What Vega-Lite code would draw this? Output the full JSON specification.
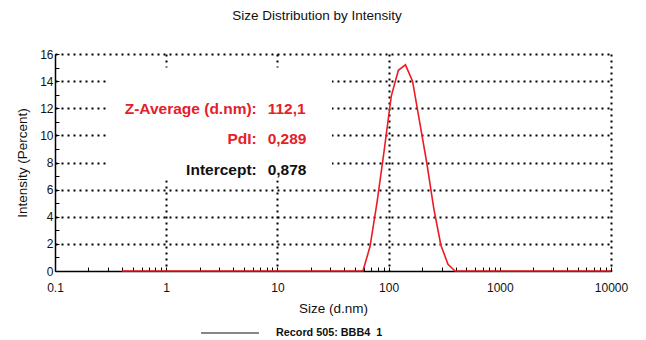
{
  "$schema": "https://vega.github.io/schema/vega-lite/v6.json",
  "width": 556,
  "height": 217,
  "autosize": "none",
  "padding": {"left": 55, "top": 54, "right": 35, "bottom": 69},
  "background": "white",
  "config": {
    "view": {"stroke": null},
    "font": "Liberation Sans",
    "text": {"font": "Liberation Sans"}
  },
  "title": {
    "text": "Size Distribution by Intensity",
    "font": "Liberation Sans",
    "fontSize": 13.5,
    "fontWeight": "normal",
    "color": "#111111",
    "anchor": "middle",
    "dx": -16,
    "offset": 26
  },
  "datasets": {
    "distribution": [
      {"size": 0.4, "intensity": 0}, {"size": 0.4632, "intensity": 0}, {"size": 0.5365, "intensity": 0},
      {"size": 0.6213, "intensity": 0}, {"size": 0.7195, "intensity": 0}, {"size": 0.8332, "intensity": 0},
      {"size": 0.9649, "intensity": 0}, {"size": 1.117, "intensity": 0}, {"size": 1.294, "intensity": 0},
      {"size": 1.499, "intensity": 0}, {"size": 1.736, "intensity": 0}, {"size": 2.01, "intensity": 0},
      {"size": 2.328, "intensity": 0}, {"size": 2.696, "intensity": 0}, {"size": 3.122, "intensity": 0},
      {"size": 3.615, "intensity": 0}, {"size": 4.187, "intensity": 0}, {"size": 4.849, "intensity": 0},
      {"size": 5.615, "intensity": 0}, {"size": 6.503, "intensity": 0}, {"size": 7.531, "intensity": 0},
      {"size": 8.721, "intensity": 0}, {"size": 10.1, "intensity": 0}, {"size": 11.7, "intensity": 0},
      {"size": 13.54, "intensity": 0}, {"size": 15.69, "intensity": 0}, {"size": 18.17, "intensity": 0},
      {"size": 21.04, "intensity": 0}, {"size": 24.36, "intensity": 0}, {"size": 28.21, "intensity": 0},
      {"size": 32.67, "intensity": 0}, {"size": 37.84, "intensity": 0}, {"size": 43.82, "intensity": 0},
      {"size": 50.75, "intensity": 0}, {"size": 58.77, "intensity": 0}, {"size": 68.06, "intensity": 1.8},
      {"size": 78.82, "intensity": 5.1}, {"size": 91.28, "intensity": 8.9}, {"size": 105.7, "intensity": 12.9},
      {"size": 122.4, "intensity": 14.8}, {"size": 141.8, "intensity": 15.2}, {"size": 164.2, "intensity": 14.0},
      {"size": 190.1, "intensity": 11.0}, {"size": 220.2, "intensity": 8.0}, {"size": 255.0, "intensity": 4.6},
      {"size": 295.3, "intensity": 1.9}, {"size": 342.0, "intensity": 0.5}, {"size": 396.1, "intensity": 0},
      {"size": 458.7, "intensity": 0}, {"size": 531.2, "intensity": 0}, {"size": 615.1, "intensity": 0},
      {"size": 712.4, "intensity": 0}, {"size": 825.0, "intensity": 0}, {"size": 955.4, "intensity": 0},
      {"size": 1106, "intensity": 0}, {"size": 1281, "intensity": 0}, {"size": 1484, "intensity": 0},
      {"size": 1718, "intensity": 0}, {"size": 1990, "intensity": 0}, {"size": 2305, "intensity": 0},
      {"size": 2669, "intensity": 0}, {"size": 3091, "intensity": 0}, {"size": 3580, "intensity": 0},
      {"size": 4145, "intensity": 0}, {"size": 4801, "intensity": 0}, {"size": 5560, "intensity": 0},
      {"size": 6439, "intensity": 0}, {"size": 7456, "intensity": 0}, {"size": 8635, "intensity": 0},
      {"size": 10000, "intensity": 0}
    ],
    "stats": [
      {"stat": "Z-Average (d.nm):", "value": "112,1"},
      {"stat": "PdI:", "value": "0,289"},
      {"stat": "Intercept:", "value": "0,878"}
    ]
  },
  "layer": [
    {
      "data": {"name": "distribution"},
      "mark": {"type": "line", "strokeWidth": 0, "opacity": 0},
      "encoding": {
        "x": {
          "field": "size",
          "type": "quantitative",
          "scale": {"type": "log", "domain": [0.1, 10000]},
          "axis": {
            "title": "Size (d.nm)",
            "titleFont": "Liberation Sans",
            "titleFontSize": 13.5,
            "titleFontWeight": "normal",
            "titleColor": "#111111",
            "titlePadding": 8,
            "values": [0.1, 0.2, 0.3, 0.4, 0.5, 0.6, 0.7, 0.8, 0.9,
                       1, 2, 3, 4, 5, 6, 7, 8, 9,
                       10, 20, 30, 40, 50, 60, 70, 80, 90,
                       100, 200, 300, 400, 500, 600, 700, 800, 900,
                       1000, 2000, 3000, 4000, 5000, 6000, 7000, 8000, 9000, 10000],
            "tickCount": 100,
            "format": "~g",
            "labelExpr": "indexof([0.1, 1, 10, 100, 1000, 10000], datum.value) >= 0 ? datum.label : ''",
            "labelOverlap": false,
            "labelFlush": false,
            "labelFont": "Liberation Sans",
            "labelFontSize": 12,
            "labelColor": "#111111",
            "labelPadding": 15,
            "tickSize": -4,
            "tickColor": "black",
            "tickWidth": 1,
            "domainColor": "black",
            "domainWidth": 1.5,
            "grid": true,
            "gridColor": "black",
            "gridDash": [2, 4],
            "gridWidth": 2,
            "gridOpacity": {
              "condition": {"test": "indexof([1, 10, 100, 10000], datum.value) >= 0", "value": 1},
              "value": 0
            }
          }
        },
        "y": {
          "field": "intensity",
          "type": "quantitative",
          "scale": {"domain": [0, 16], "nice": false},
          "axis": {
            "title": "Intensity (Percent)",
            "titleFont": "Liberation Sans",
            "titleFontSize": 13.5,
            "titleFontWeight": "normal",
            "titleColor": "#111111",
            "titlePadding": 10,
            "values": [0, 1, 2, 3, 4, 5, 6, 7, 8, 9, 10, 11, 12, 13, 14, 15, 16],
            "tickCount": 40,
            "format": "d",
            "labelExpr": "datum.value % 2 == 0 ? datum.label : ''",
            "labelOverlap": false,
            "labelFont": "Liberation Sans",
            "labelFontSize": 12,
            "labelColor": "#111111",
            "labelPadding": 6,
            "tickSize": -4,
            "tickColor": "black",
            "domainColor": "black",
            "domainWidth": 1.5,
            "grid": true,
            "gridColor": "black",
            "gridDash": [2, 4],
            "gridWidth": 2,
            "gridOpacity": {
              "condition": {"test": "datum.value % 2 == 0 && datum.value > 0", "value": 1},
              "value": 0
            }
          }
        }
      }
    },
    {
      "mark": {"type": "rect", "color": "white"},
      "data": {"values": [{}]},
      "encoding": {
        "x": {"datum": 0.29, "type": "quantitative"},
        "x2": {"datum": 31},
        "y": {"datum": 15, "type": "quantitative"},
        "y2": {"datum": 6.7}
      }
    },
    {
      "data": {"name": "stats"},
      "transform": [{"filter": "datum.stat === 'Z-Average (d.nm):'"}],
      "layer": [
        {
          "mark": {"type": "text", "align": "right", "baseline": "middle", "fontSize": 15.5, "fontWeight": "bold", "color": "#e5202a"},
          "encoding": {"x": {"datum": 6.52, "type": "quantitative"}, "y": {"datum": 11.94, "type": "quantitative"}, "text": {"field": "stat"}}
        },
        {
          "mark": {"type": "text", "align": "left", "baseline": "middle", "fontSize": 15.5, "fontWeight": "bold", "color": "#e5202a"},
          "encoding": {"x": {"datum": 8.18, "type": "quantitative"}, "y": {"datum": 11.94, "type": "quantitative"}, "text": {"field": "value"}}
        }
      ]
    },
    {
      "data": {"name": "stats"},
      "transform": [{"filter": "datum.stat === 'PdI:'"}],
      "layer": [
        {
          "mark": {"type": "text", "align": "right", "baseline": "middle", "fontSize": 15.5, "fontWeight": "bold", "color": "#e5202a"},
          "encoding": {"x": {"datum": 6.52, "type": "quantitative"}, "y": {"datum": 9.7, "type": "quantitative"}, "text": {"field": "stat"}}
        },
        {
          "mark": {"type": "text", "align": "left", "baseline": "middle", "fontSize": 15.5, "fontWeight": "bold", "color": "#e5202a"},
          "encoding": {"x": {"datum": 8.18, "type": "quantitative"}, "y": {"datum": 9.7, "type": "quantitative"}, "text": {"field": "value"}}
        }
      ]
    },
    {
      "data": {"name": "stats"},
      "transform": [{"filter": "datum.stat === 'Intercept:'"}],
      "layer": [
        {
          "mark": {"type": "text", "align": "right", "baseline": "middle", "fontSize": 15.5, "fontWeight": "bold", "color": "#111111"},
          "encoding": {"x": {"datum": 6.52, "type": "quantitative"}, "y": {"datum": 7.44, "type": "quantitative"}, "text": {"field": "stat"}}
        },
        {
          "mark": {"type": "text", "align": "left", "baseline": "middle", "fontSize": 15.5, "fontWeight": "bold", "color": "#111111"},
          "encoding": {"x": {"datum": 8.18, "type": "quantitative"}, "y": {"datum": 7.44, "type": "quantitative"}, "text": {"field": "value"}}
        }
      ]
    },
    {
      "data": {"name": "distribution"},
      "mark": {"type": "line", "strokeWidth": 1.6, "color": "#ec1c24"},
      "encoding": {
        "x": {"field": "size", "type": "quantitative"},
        "y": {"field": "intensity", "type": "quantitative"}
      }
    },
    {
      "data": {"values": [{}]},
      "mark": {"type": "line", "strokeWidth": 1.2},
      "encoding": {
        "x": {"datum": 1, "type": "quantitative"},
        "y": {"datum": 0, "type": "quantitative"},
        "color": {
          "datum": "Record 505: BBB4\u00a0 1",
          "type": "nominal",
          "scale": {"range": ["#111111"]},
          "legend": {
            "title": null,
            "orient": "none",
            "legendX": 145,
            "legendY": 249,
            "symbolType": "stroke",
            "symbolSize": 3364,
            "symbolStrokeWidth": 1.2,
            "labelFont": "Liberation Sans",
            "labelFontSize": 10.8,
            "labelFontWeight": "bold",
            "labelColor": "#111111",
            "labelOffset": 16
          }
        }
      }
    }
  ]
}
